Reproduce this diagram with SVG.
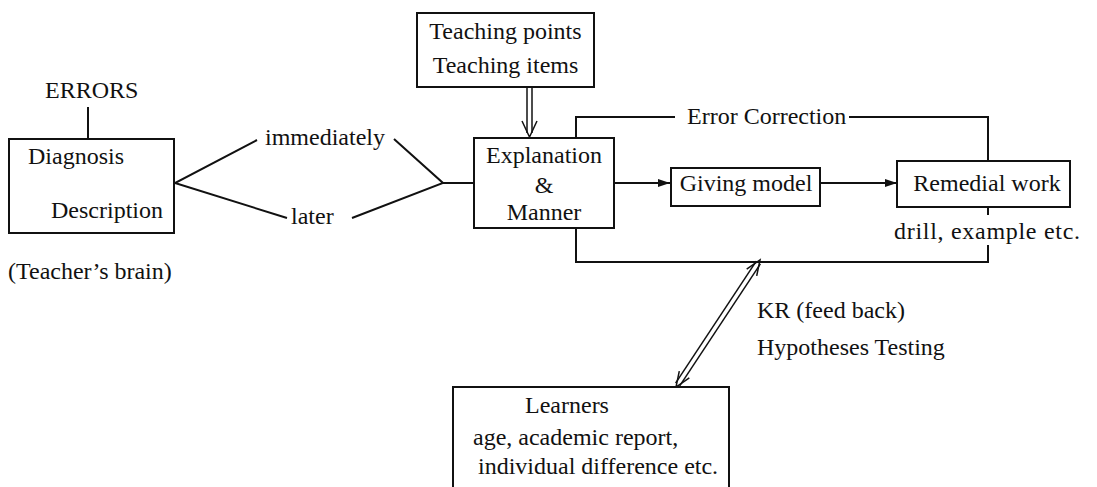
<svg xmlns="http://www.w3.org/2000/svg" width="1097" height="487" viewBox="0 0 1097 487">
<style>
  text { font-family: "Liberation Serif", "Times New Roman", serif; font-size: 24px; fill: #111; }
  .box { fill: #fff; stroke: #111; stroke-width: 2; }
  .ln { fill: none; stroke: #111; stroke-width: 2; }
  .thin { fill: none; stroke: #111; stroke-width: 1.5; }
</style>
<defs>
  <marker id="arr" viewBox="0 0 12 8" refX="12" refY="4" markerWidth="12" markerHeight="8" markerUnits="userSpaceOnUse" orient="auto">
    <path d="M0,0 L12,4 L0,8 z" fill="#111"/>
  </marker>
</defs>
<rect width="1097" height="487" fill="#fff"/>

<g id="connectors">
  <line class="ln" x1="88" y1="107" x2="88" y2="139"/>
  <polyline class="ln" points="257,140 175,183 287,218"/>
  <polyline class="ln" points="394,139 443,183 352,218"/>
  <line class="ln" x1="443" y1="183" x2="474" y2="183"/>
  <line class="thin" x1="527" y1="87" x2="527" y2="133"/>
  <line class="thin" x1="532" y1="87" x2="532" y2="133"/>
  <polyline class="thin" points="522,121 529.5,137 537,121"/>
  <line class="ln" x1="614" y1="183" x2="670" y2="183" marker-end="url(#arr)"/>
  <line class="ln" x1="820" y1="183" x2="897" y2="183" marker-end="url(#arr)"/>
  <polyline class="ln" points="576,138 576,117 675,117"/>
  <polyline class="ln" points="849,117 988,117 988,161"/>
  <polyline class="ln" points="576,228 576,262 988,262 988,245"/>
  <line class="ln" x1="988" y1="207" x2="988" y2="215"/>
  <line class="thin" x1="679.7" y1="385.9" x2="760.4" y2="263.9"/>
  <line class="thin" x1="675.6" y1="383.1" x2="756.3" y2="261.1"/>
  <polyline class="thin" points="756.7,275.8 760,260 746.7,269.2"/>
  <polyline class="thin" points="689.3,377.8 676,387 679.3,371.2"/>
</g>

<g id="errors-label">
  <text x="45" y="98">ERRORS</text>
</g>

<g id="diagnosis">
  <rect class="box" x="9" y="139" width="165" height="94"/>
  <text x="28" y="164">Diagnosis</text>
  <text x="51" y="218">Description</text>
</g>

<g id="teachers-brain">
  <text x="8" y="279">(Teacher’s brain)</text>
</g>

<g id="label-immediately">
  <text x="265" y="145">immediately</text>
</g>
<g id="label-later">
  <text x="291" y="224">later</text>
</g>

<g id="teaching">
  <rect class="box" x="417" y="13" width="177" height="74"/>
  <text x="505.5" y="39" text-anchor="middle">Teaching points</text>
  <text x="505.5" y="73" text-anchor="middle">Teaching items</text>
</g>

<g id="explanation">
  <rect class="box" x="474" y="138" width="140" height="90"/>
  <text x="544" y="163" text-anchor="middle">Explanation</text>
  <text x="544" y="193" text-anchor="middle">&amp;</text>
  <text x="544" y="220" text-anchor="middle">Manner</text>
</g>

<g id="giving-model">
  <rect class="box" x="671" y="168" width="149" height="38"/>
  <text x="746" y="191" text-anchor="middle">Giving model</text>
</g>

<g id="remedial">
  <rect class="box" x="897" y="161" width="173" height="46"/>
  <text x="987" y="191" text-anchor="middle">Remedial work</text>
</g>

<g id="label-drill">
  <text x="894" y="239" textLength="186" lengthAdjust="spacing">drill, example etc.</text>
</g>

<g id="label-error-correction">
  <text x="687" y="124">Error Correction</text>
</g>

<g id="label-kr">
  <text x="757" y="318">KR (feed back)</text>
  <text x="757" y="355">Hypotheses Testing</text>
</g>

<g id="learners">
  <rect class="box" x="453" y="387" width="276" height="110"/>
  <text x="567" y="413" text-anchor="middle">Learners</text>
  <text x="473" y="445">age, academic report,</text>
  <text x="478" y="474">individual difference etc.</text>
</g>
</svg>
